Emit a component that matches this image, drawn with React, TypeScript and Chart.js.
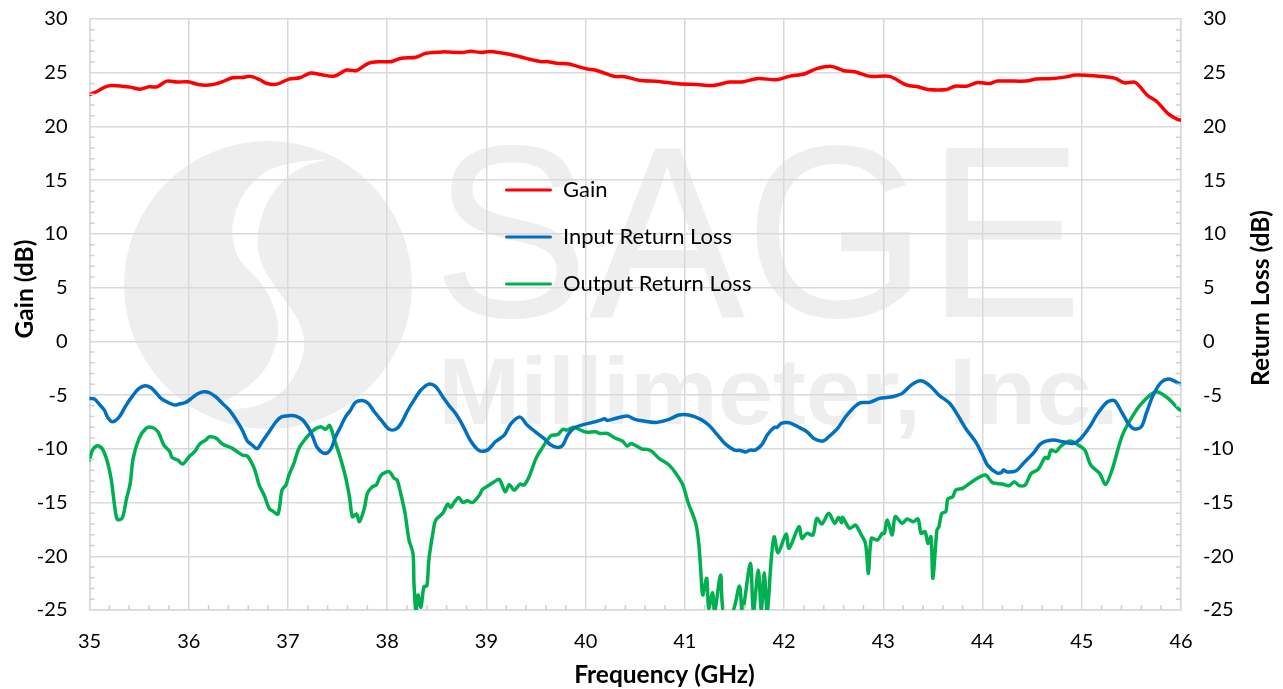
import React, { useEffect, useRef } from "react";
import { Chart, registerables } from "chart.js";

Chart.register(...registerables);

const gainFreq = [35,35.08,35.16,35.23,35.33,35.41,35.51,35.6,35.68,35.78,35.88,35.99,36.11,36.23,36.34,36.44,36.54,36.62,36.71,36.79,36.89,37.01,37.12,37.23,37.34,37.47,37.59,37.69,37.81,37.94,38.04,38.14,38.29,38.39,38.56,38.76,38.84,38.95,39.03,39.23,39.4,39.48,39.56,39.62,39.71,39.83,40,40.12,40.29,40.39,40.54,40.74,40.93,41.12,41.28,41.45,41.59,41.74,41.92,42.05,42.21,42.33,42.48,42.6,42.71,42.87,43.06,43.24,43.35,43.45,43.64,43.72,43.84,43.95,44.07,44.15,44.44,44.54,44.67,44.83,44.94,45.12,45.33,45.43,45.54,45.66,45.76,45.87,45.97,46];
const gainDb = [22.97,23.28,23.69,23.81,23.75,23.66,23.47,23.69,23.69,24.22,24.13,24.16,23.88,23.88,24.16,24.53,24.56,24.66,24.38,24,23.94,24.41,24.53,24.97,24.81,24.69,25.25,25.19,25.88,26.03,26.03,26.34,26.44,26.81,26.94,26.88,27,26.88,26.97,26.72,26.34,26.16,26.03,26.03,25.88,25.81,25.38,25.19,24.66,24.63,24.31,24.19,23.97,23.91,23.81,24.13,24.16,24.47,24.34,24.66,24.91,25.38,25.59,25.19,25.09,24.66,24.66,23.84,23.69,23.44,23.44,23.75,23.75,24.09,24,24.22,24.22,24.41,24.44,24.59,24.78,24.72,24.5,24.06,24.09,22.91,22.28,21.19,20.63,20.6];

const inputFreq = [35,35.05,35.1,35.15,35.18,35.23,35.3,35.37,35.44,35.5,35.56,35.62,35.67,35.72,35.79,35.86,35.91,35.97,36.04,36.09,36.15,36.21,36.28,36.34,36.41,36.48,36.54,36.59,36.64,36.69,36.74,36.81,36.88,36.93,37.01,37.08,37.15,37.21,37.25,37.29,37.35,37.4,37.44,37.48,37.53,37.58,37.63,37.68,37.75,37.81,37.87,37.94,38.02,38.09,38.14,38.2,38.27,38.34,38.42,38.49,38.56,38.62,38.69,38.76,38.84,38.93,39.01,39.09,39.18,39.25,39.34,39.41,39.5,39.58,39.65,39.72,39.77,39.82,39.88,39.96,40.07,40.15,40.19,40.22,40.29,40.42,40.49,40.57,40.71,40.84,40.94,41.04,41.16,41.24,41.33,41.41,41.5,41.56,41.61,41.66,41.71,41.78,41.83,41.9,41.93,41.97,42.05,42.15,42.23,42.3,42.39,42.45,42.54,42.62,42.71,42.77,42.86,42.96,43.04,43.09,43.19,43.28,43.35,43.4,43.48,43.56,43.67,43.75,43.83,43.93,44,44.05,44.14,44.19,44.21,44.25,44.34,44.41,44.51,44.59,44.71,44.81,44.91,44.99,45.08,45.16,45.26,45.33,45.4,45.48,45.53,45.6,45.65,45.72,45.8,45.87,45.93,45.98,46];
const inputRL = [-5.31,-5.37,-5.87,-6.4,-7.02,-7.48,-7.02,-5.93,-5,-4.38,-4.13,-4.32,-4.78,-5.31,-5.68,-5.93,-5.81,-5.68,-5.22,-4.88,-4.69,-4.78,-5.22,-5.78,-6.4,-7.33,-8.26,-9.28,-9.65,-9.99,-9.34,-8.41,-7.48,-7.05,-6.92,-6.95,-7.33,-8.1,-8.88,-9.81,-10.36,-10.36,-9.87,-8.88,-7.95,-7.02,-6.4,-5.68,-5.5,-5.78,-6.55,-7.33,-8.19,-8.16,-7.64,-6.55,-5.47,-4.53,-3.98,-4.22,-5.16,-5.93,-6.71,-7.79,-9.25,-10.18,-10.12,-9.34,-8.72,-7.64,-7.05,-7.79,-8.47,-9.03,-9.65,-9.87,-9.65,-8.72,-8.1,-7.79,-7.54,-7.33,-7.2,-7.36,-7.2,-6.95,-7.23,-7.39,-7.54,-7.26,-6.86,-6.86,-7.26,-7.79,-8.72,-9.56,-10.12,-10.15,-10.3,-10.12,-10.12,-9.56,-8.72,-8,-8,-7.64,-7.57,-8,-8.41,-9.03,-9.28,-8.88,-8.1,-7.02,-6.09,-5.71,-5.68,-5.31,-5.22,-5.16,-4.84,-4.07,-3.7,-3.7,-4.22,-5,-5.78,-6.86,-8.1,-9.34,-10.58,-11.51,-12.22,-12.22,-11.98,-12.16,-12.04,-11.36,-10.43,-9.5,-9.19,-9.34,-9.5,-9.03,-7.95,-6.71,-5.62,-5.53,-6.55,-7.79,-8.16,-7.95,-6.71,-5,-3.82,-3.51,-3.67,-3.91,-3.95];

const outputFreq = [35,35.03,35.08,35.13,35.18,35.22,35.25,35.28,35.33,35.37,35.41,35.44,35.5,35.57,35.63,35.69,35.75,35.81,35.83,35.89,35.94,36.01,36.06,36.11,36.17,36.21,36.28,36.34,36.44,36.54,36.59,36.66,36.71,36.76,36.81,36.85,36.9,36.94,36.98,37.01,37.06,37.11,37.18,37.25,37.33,37.38,37.42,37.47,37.53,37.58,37.62,37.65,37.69,37.72,37.77,37.8,37.85,37.89,37.94,38.02,38.07,38.1,38.14,38.18,38.22,38.26,38.27,38.29,38.31,38.34,38.37,38.4,38.42,38.46,38.49,38.56,38.61,38.64,38.68,38.72,38.76,38.81,38.86,38.93,38.96,39.03,39.08,39.13,39.19,39.23,39.28,39.34,39.38,39.43,39.5,39.56,39.65,39.72,39.77,39.81,39.88,40,40.1,40.14,40.22,40.29,40.37,40.42,40.46,40.57,40.62,40.67,40.74,40.84,40.91,40.98,41.03,41.11,41.14,41.16,41.18,41.22,41.24,41.28,41.3,41.36,41.39,41.48,41.55,41.58,41.66,41.69,41.74,41.77,41.8,41.83,41.87,41.9,41.94,42.02,42.05,42.15,42.18,42.23,42.29,42.33,42.38,42.45,42.51,42.55,42.58,42.59,42.66,42.72,42.77,42.82,42.85,42.88,42.94,42.99,43.01,43.04,43.09,43.12,43.19,43.24,43.3,43.35,43.38,43.42,43.45,43.48,43.5,43.54,43.56,43.59,43.63,43.65,43.7,43.73,43.8,43.92,44.03,44.1,44.2,44.27,44.32,44.37,44.43,44.49,44.56,44.63,44.66,44.69,44.74,44.79,44.88,44.94,45.03,45.09,45.18,45.24,45.31,45.41,45.55,45.65,45.73,45.78,45.87,45.98,46];
const outputRL = [-11.05,-10.12,-9.71,-10.02,-11.2,-12.9,-15.08,-16.57,-16.44,-14.77,-13.22,-10.89,-9.03,-8.1,-8,-8.41,-9.65,-10.27,-10.8,-11.05,-11.42,-10.67,-10.27,-9.56,-9.19,-8.88,-9.03,-9.56,-9.96,-10.58,-10.67,-11.82,-13.37,-14.3,-15.54,-15.82,-16.07,-13.84,-13.37,-12.44,-11.36,-9.96,-9.03,-8.32,-7.95,-8.19,-7.82,-9.19,-10.89,-12.6,-14.46,-16.32,-16.07,-16.78,-15.54,-14.15,-13.53,-13.37,-12.44,-12.13,-12.75,-12.9,-14.3,-16,-18.49,-19.73,-22.52,-25.2,-23.6,-24.75,-22.83,-22.77,-20.35,-17.87,-16.63,-16,-15.14,-15.45,-14.92,-14.52,-14.98,-14.83,-15,-14.3,-13.78,-13.37,-13.06,-12.84,-13.99,-13.31,-13.84,-13.28,-13.37,-12.6,-10.89,-9.96,-8.78,-8.66,-8.19,-8.26,-8,-8.44,-8.41,-8.57,-8.57,-8.97,-9.28,-9.74,-9.5,-10.02,-10.05,-10.27,-10.89,-11.51,-12.29,-13.37,-14.92,-16.94,-18.8,-21.28,-23.6,-22.05,-24.84,-23.39,-25.2,-21.74,-25.2,-25.2,-22.77,-25.2,-20.66,-25.2,-21.28,-25.2,-21.53,-25.2,-20.35,-18.18,-19.67,-17.93,-19.26,-17.25,-18.33,-17.87,-18.02,-16.47,-17,-16,-16.94,-16.38,-16.88,-16.38,-17.4,-17.1,-17.87,-18.8,-21.59,-18.33,-18.49,-17.87,-17.87,-16.63,-18.02,-16.32,-16.94,-16.53,-16.78,-16.53,-17.87,-17.7,-18.8,-18.18,-22.05,-17.56,-17.25,-16,-15.85,-14.67,-14.46,-13.84,-13.68,-12.9,-12.44,-13.15,-13.28,-13.43,-13.06,-13.43,-13.37,-12.29,-11.91,-10.8,-10.89,-10.12,-10.27,-9.74,-9.28,-9.5,-10.12,-11.51,-12.29,-13.31,-11.82,-8.72,-6.4,-5.31,-4.75,-4.75,-5.31,-6.33,-6.4];

const seriesNames = ["Gain", "Input Return Loss", "Output Return Loss"];
const seriesColors = ["#ff0000", "#0070c0", "#00b050"];
const xTitle = "Frequency (GHz)";
const leftTitle = "Gain (dB)";
const rightTitle = "Return Loss (dB)";
const watermarkTop = "SAGE";
const watermarkBottom = "Millimeter, Inc.";

const FONT = "Lato, 'Open Sans', sans-serif";
const GRID = "#d9d9d9";
const MARK = "#eeeeee";
const TITLE_SIZE = 24.5;

const pts = (xs: number[], ys: number[]) => xs.map((x, i) => ({ x, y: ys[i] }));

const watermark = {
  id: "watermark",
  beforeDraw(chart: any) {
    const ctx = chart.ctx;
    ctx.save();
    ctx.fillStyle = MARK;
    ctx.beginPath();
    ctx.arc(268, 285, 144, 0, Math.PI * 2);
    ctx.fill();
    const band = [[326.7,159.3],[276.7,161.7],[243.3,190],[230,226.7],[236.7,260],[263.3,283.3],[278.3,316.7],[278.3,343.3],[260,380],[210,410],[260,408],[290,386.7],[306.7,350],[300,320],[276.7,290],[258.3,260],[256.7,230],[270,193.3],[296.7,168.3]];
    ctx.fillStyle = "#ffffff";
    ctx.beginPath();
    ctx.moveTo(band[0][0], band[0][1]);
    for (let i = 1; i < band.length; i++) {
      const next = band[(i + 1) % band.length];
      ctx.quadraticCurveTo(band[i][0], band[i][1], (band[i][0] + next[0]) / 2, (band[i][1] + next[1]) / 2);
    }
    ctx.closePath();
    ctx.fill();
    ctx.fillStyle = MARK;
    ctx.textBaseline = "alphabetic";
    ctx.textAlign = "left";
    ctx.save();
    ctx.translate(433, 317);
    ctx.scale(0.955, 1);
    ctx.font = "245px 'Liberation Sans'";
    ctx.fillText(watermarkTop, 0, 0);
    ctx.restore();
    ctx.save();
    ctx.translate(438, 424);
    ctx.scale(1.04, 1);
    ctx.font = "bold 95px 'Liberation Sans'";
    ctx.fillText(watermarkBottom, 0, 0);
    ctx.restore();
    ctx.restore();
    const lg = chart.legend;
    lg.left = 480;
    lg.right = 800;
    lg.top = 154;
    lg.bottom = 330;
  },
};

const axisExtras = {
  id: "axisExtras",
  afterDraw(chart: any) {
    const { ctx, chartArea: a, scales } = chart;
    ctx.save();
    ctx.strokeStyle = "#d0d0d0";
    ctx.lineWidth = 1.5;
    ctx.beginPath();
    for (let v = -25; v <= 30; v += 1) {
      if (v % 5 === 0) continue;
      const p = scales.y.getPixelForValue(v);
      ctx.moveTo(a.left, p);
      ctx.lineTo(a.left + 5, p);
      ctx.moveTo(a.right - 5, p);
      ctx.lineTo(a.right, p);
    }
    for (let k = 175; k <= 230; k += 1) {
      if (k % 5 === 0) continue;
      const p = scales.x.getPixelForValue(k / 5);
      ctx.moveTo(p, a.bottom);
      ctx.lineTo(p, a.bottom - 5);
    }
    ctx.stroke();
    ctx.fillStyle = "#000";
    ctx.font = `bold ${TITLE_SIZE}px ${FONT}`;
    ctx.textAlign = "center";
    ctx.textBaseline = "middle";
    ctx.fillText(xTitle, 664.5, 675);
    const vertical = (text: string, x: number, y: number) => {
      ctx.save();
      ctx.translate(x, y);
      ctx.rotate(-Math.PI / 2);
      ctx.fillText(text, 0, 0);
      ctx.restore();
    };
    vertical(leftTitle, 25, 289);
    vertical(rightTitle, 1261, 298);
    ctx.restore();
  },
};

export default function App() {
  const ref = useRef<HTMLCanvasElement>(null);
  useEffect(() => {
    const tickFont = { family: FONT, size: 20 };
    const grid = { color: GRID, lineWidth: 1.5, drawTicks: false };
    const border = { color: GRID, width: 1.5 };
    const fitY = (w: number) => (s: any) => {
      s.width = w;
      s.paddingTop = 0;
      s.paddingBottom = 0;
    };
    const line = (i: number, data: any[], yAxisID: string) => ({
      label: seriesNames[i],
      data,
      yAxisID,
      borderColor: seriesColors[i],
      backgroundColor: seriesColors[i],
      borderWidth: 3.5,
      pointRadius: 0,
      tension: 0.3,
      borderJoinStyle: "round" as const,
      borderCapStyle: "round" as const,
    });
    const chart = new Chart(ref.current!, {
      type: "line",
      data: {
        datasets: [
          line(0, pts(gainFreq, gainDb), "y"),
          line(1, pts(inputFreq, inputRL), "y1"),
          line(2, pts(outputFreq, outputRL), "y1"),
        ],
      },
      options: {
        animation: false,
        responsive: false,
        parsing: false,
        normalized: true,
        layout: { padding: { top: 19, left: 0, right: 0, bottom: 0 } },
        scales: {
          x: {
            type: "linear",
            min: 35,
            max: 46,
            grid,
            border,
            afterFit: (s: any) => { s.height = 79; s.paddingLeft = 0; s.paddingRight = 0; },
            ticks: { stepSize: 1, color: "#000", font: tickFont, padding: 20, maxRotation: 0 },
          },
          y: {
            position: "left",
            min: -25,
            max: 30,
            grid,
            border,
            afterFit: fitY(89.5),
            ticks: { stepSize: 5, color: "#000", font: tickFont, padding: 22 },
          },
          y1: {
            position: "right",
            min: -25,
            max: 30,
            grid: { display: false, drawTicks: false },
            border,
            afterFit: fitY(102),
            ticks: { stepSize: 5, color: "#000", font: tickFont, padding: 22 },
          },
        },
        plugins: {
          tooltip: { enabled: false },
          legend: {
            position: "chartArea",
            align: "start",
            labels: {
              boxWidth: 47,
              boxHeight: 3,
              padding: 25,
              color: "#000",
              font: { family: FONT, size: 22 },
              generateLabels: (c: any) =>
                c.data.datasets.map((d: any, i: number) => ({
                  text: d.label,
                  fillStyle: d.borderColor,
                  strokeStyle: d.borderColor,
                  lineWidth: 0,
                  datasetIndex: i,
                  borderRadius: 1.5,
                  fontColor: "#000",
                })),
            },
          },
        },
      },
      plugins: [watermark, axisExtras],
    } as any);
    return () => chart.destroy();
  }, []);
  return (
    <div style={{ position: "fixed", left: 0, top: 0, width: 1283, height: 689 }}>
      <canvas ref={ref} width={1283} height={689} style={{ display: "block" }} />
    </div>
  );
}
